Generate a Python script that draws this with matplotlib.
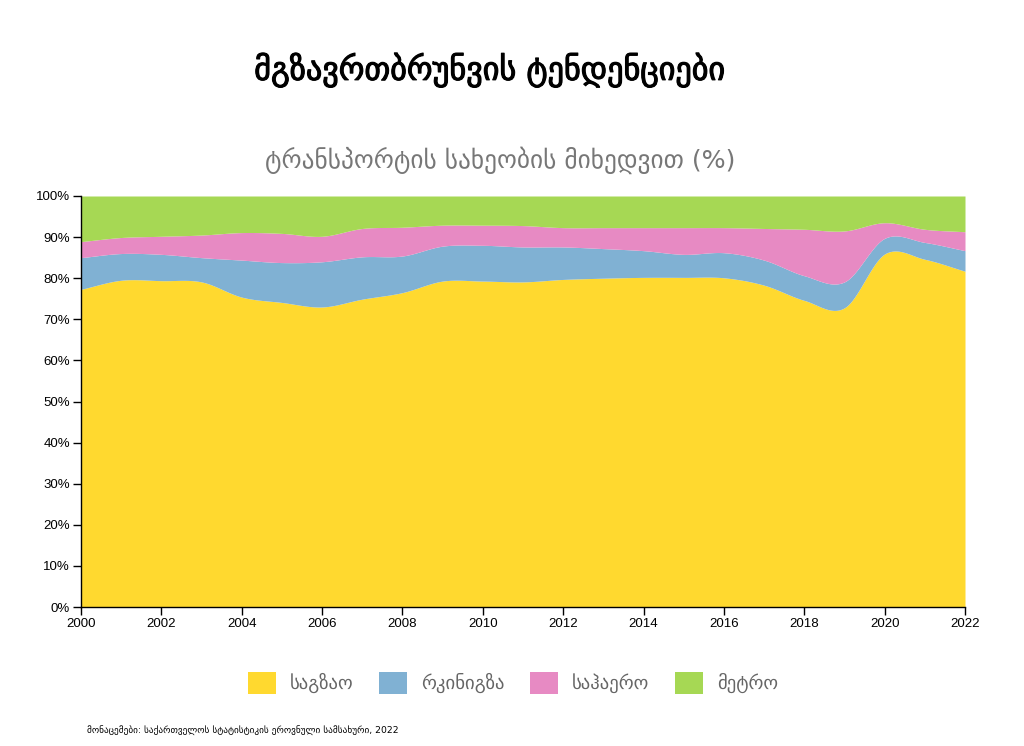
import numpy as np
import matplotlib
matplotlib.use("Agg")
import matplotlib.pyplot as plt
import matplotlib.patheffects as pe
from matplotlib.patches import Patch
from matplotlib.ticker import FuncFormatter

years = list(range(2000, 2023))
# transport mode shares (%)
road = [77.3, 79.5, 79.4, 79.1, 75.4, 74.1, 73.0, 74.9, 76.5, 79.3, 79.3, 79.1,
        79.7, 80.0, 80.2, 80.2, 80.1, 78.3, 74.6, 72.8, 85.9, 84.6, 81.7]
rail = [7.7, 6.5, 6.4, 5.9, 9.0, 9.7, 11.0, 10.3, 8.9, 8.5, 8.7, 8.5,
        7.9, 7.2, 6.5, 5.6, 6.1, 6.1, 6.0, 6.3, 3.8, 4.1, 5.0]
air = [3.9, 3.9, 4.4, 5.5, 6.7, 7.1, 6.2, 6.9, 7.0, 5.1, 4.9, 5.2,
       4.7, 5.1, 5.6, 6.5, 6.1, 7.7, 11.3, 12.4, 3.8, 3.2, 4.6]
metro = [11.1, 10.1, 9.8, 9.5, 8.9, 9.1, 9.8, 7.9, 7.6, 7.1, 7.1, 7.2,
         7.7, 7.7, 7.7, 7.7, 7.7, 7.9, 8.1, 8.5, 6.5, 8.1, 8.7]

labels = ["საგზაო", "რკინიგზა", "საჰაერო", "მეტრო"]
colors = ["#ffd92f", "#80b1d3", "#e78ac3", "#a6d854"]

title = "მგზავრთბრუნვის ტენდენციები"
subtitle = "ტრანსპორტის სახეობის მიხედვით (%)"
source = "მონაცემები: საქართველოს სტატისტიკის ეროვნული სამსახური, 2022"


def catmull_rom(x, y, steps=20):
    # smooth line through the points, like d3.curveCardinal
    x = np.asarray(x, float)
    y = np.asarray(y, float)
    m = np.zeros_like(y)
    m[1:-1] = (y[2:] - y[:-2]) / (x[2:] - x[:-2])
    m[0] = (y[1] - y[0]) / (x[1] - x[0])
    m[-1] = (y[-1] - y[-2]) / (x[-1] - x[-2])
    xs, ys = [], []
    for i in range(len(x) - 1):
        h = x[i + 1] - x[i]
        t = np.linspace(0, 1, steps, endpoint=False)
        h00 = 2 * t**3 - 3 * t**2 + 1
        h10 = t**3 - 2 * t**2 + t
        h01 = -2 * t**3 + 3 * t**2
        h11 = t**3 - t**2
        xs.append(x[i] + t * h)
        ys.append(h00 * y[i] + h10 * h * m[i] + h01 * y[i + 1] + h11 * h * m[i + 1])
    xs.append([x[-1]])
    ys.append([y[-1]])
    return np.concatenate(xs), np.concatenate(ys)


series = np.array([road, rail, air, metro], float)
series = series / series.sum(axis=0) * 100
tops = np.cumsum(series, axis=0)

fig = plt.figure(figsize=(10.24, 7.46), dpi=100)
ax = fig.add_axes([81 / 1024, 1 - 607 / 746, (965 - 81) / 1024, (607 - 196) / 746])

bottom = np.zeros(len(years))
for top, color in zip(tops, colors):
    xs, y1 = catmull_rom(years, top)
    _, y0 = catmull_rom(years, bottom)
    ax.fill_between(xs, y0, y1, color=color, linewidth=0)
    bottom = top

ax.set_xlim(2000, 2022)
ax.set_ylim(0, 100)
ax.set_xticks(range(2000, 2023, 2))
ax.set_yticks(range(0, 101, 10))
ax.yaxis.set_major_formatter(FuncFormatter(lambda v, p: f"{v:.0f}%"))
for s in ["top", "right"]:
    ax.spines[s].set_visible(False)
for s in ["left", "bottom"]:
    ax.spines[s].set_linewidth(1)
ax.tick_params(length=6, width=1, labelsize=9.5, pad=2)
for lab in ax.get_xticklabels() + ax.get_yticklabels():
    lab.set_family(["Liberation Sans", "DejaVu Sans"])

# title a bit heavier than regular weight
fig.text(490 / 1024, 1 - 70 / 746, title, ha="center", va="center",
         fontsize=23.2, color="black", family="DejaVu Sans",
         path_effects=[pe.withStroke(linewidth=0.8, foreground="black")])
fig.text(500 / 1024, 1 - 160 / 746, subtitle, ha="center", va="center",
         fontsize=18.2, color="#777777", family="DejaVu Sans")

handles = [Patch(facecolor=c, edgecolor="none", label=l) for c, l in zip(colors, labels)]
leg = fig.legend(handles=handles, loc="center", bbox_to_anchor=(513 / 1024, 1 - 683 / 746),
                 ncol=4, frameon=False, fontsize=13.5, handlelength=1.5, handleheight=1.5,
                 handletextpad=0.75, columnspacing=1.35)
for t in leg.get_texts():
    t.set_color("#666666")
    t.set_family("DejaVu Sans")

fig.text(87 / 1024, 1 - 730 / 746, source, ha="left", va="center",
         fontsize=6.7, color="black", family="DejaVu Sans")

fig.savefig("out.png", dpi=100)
